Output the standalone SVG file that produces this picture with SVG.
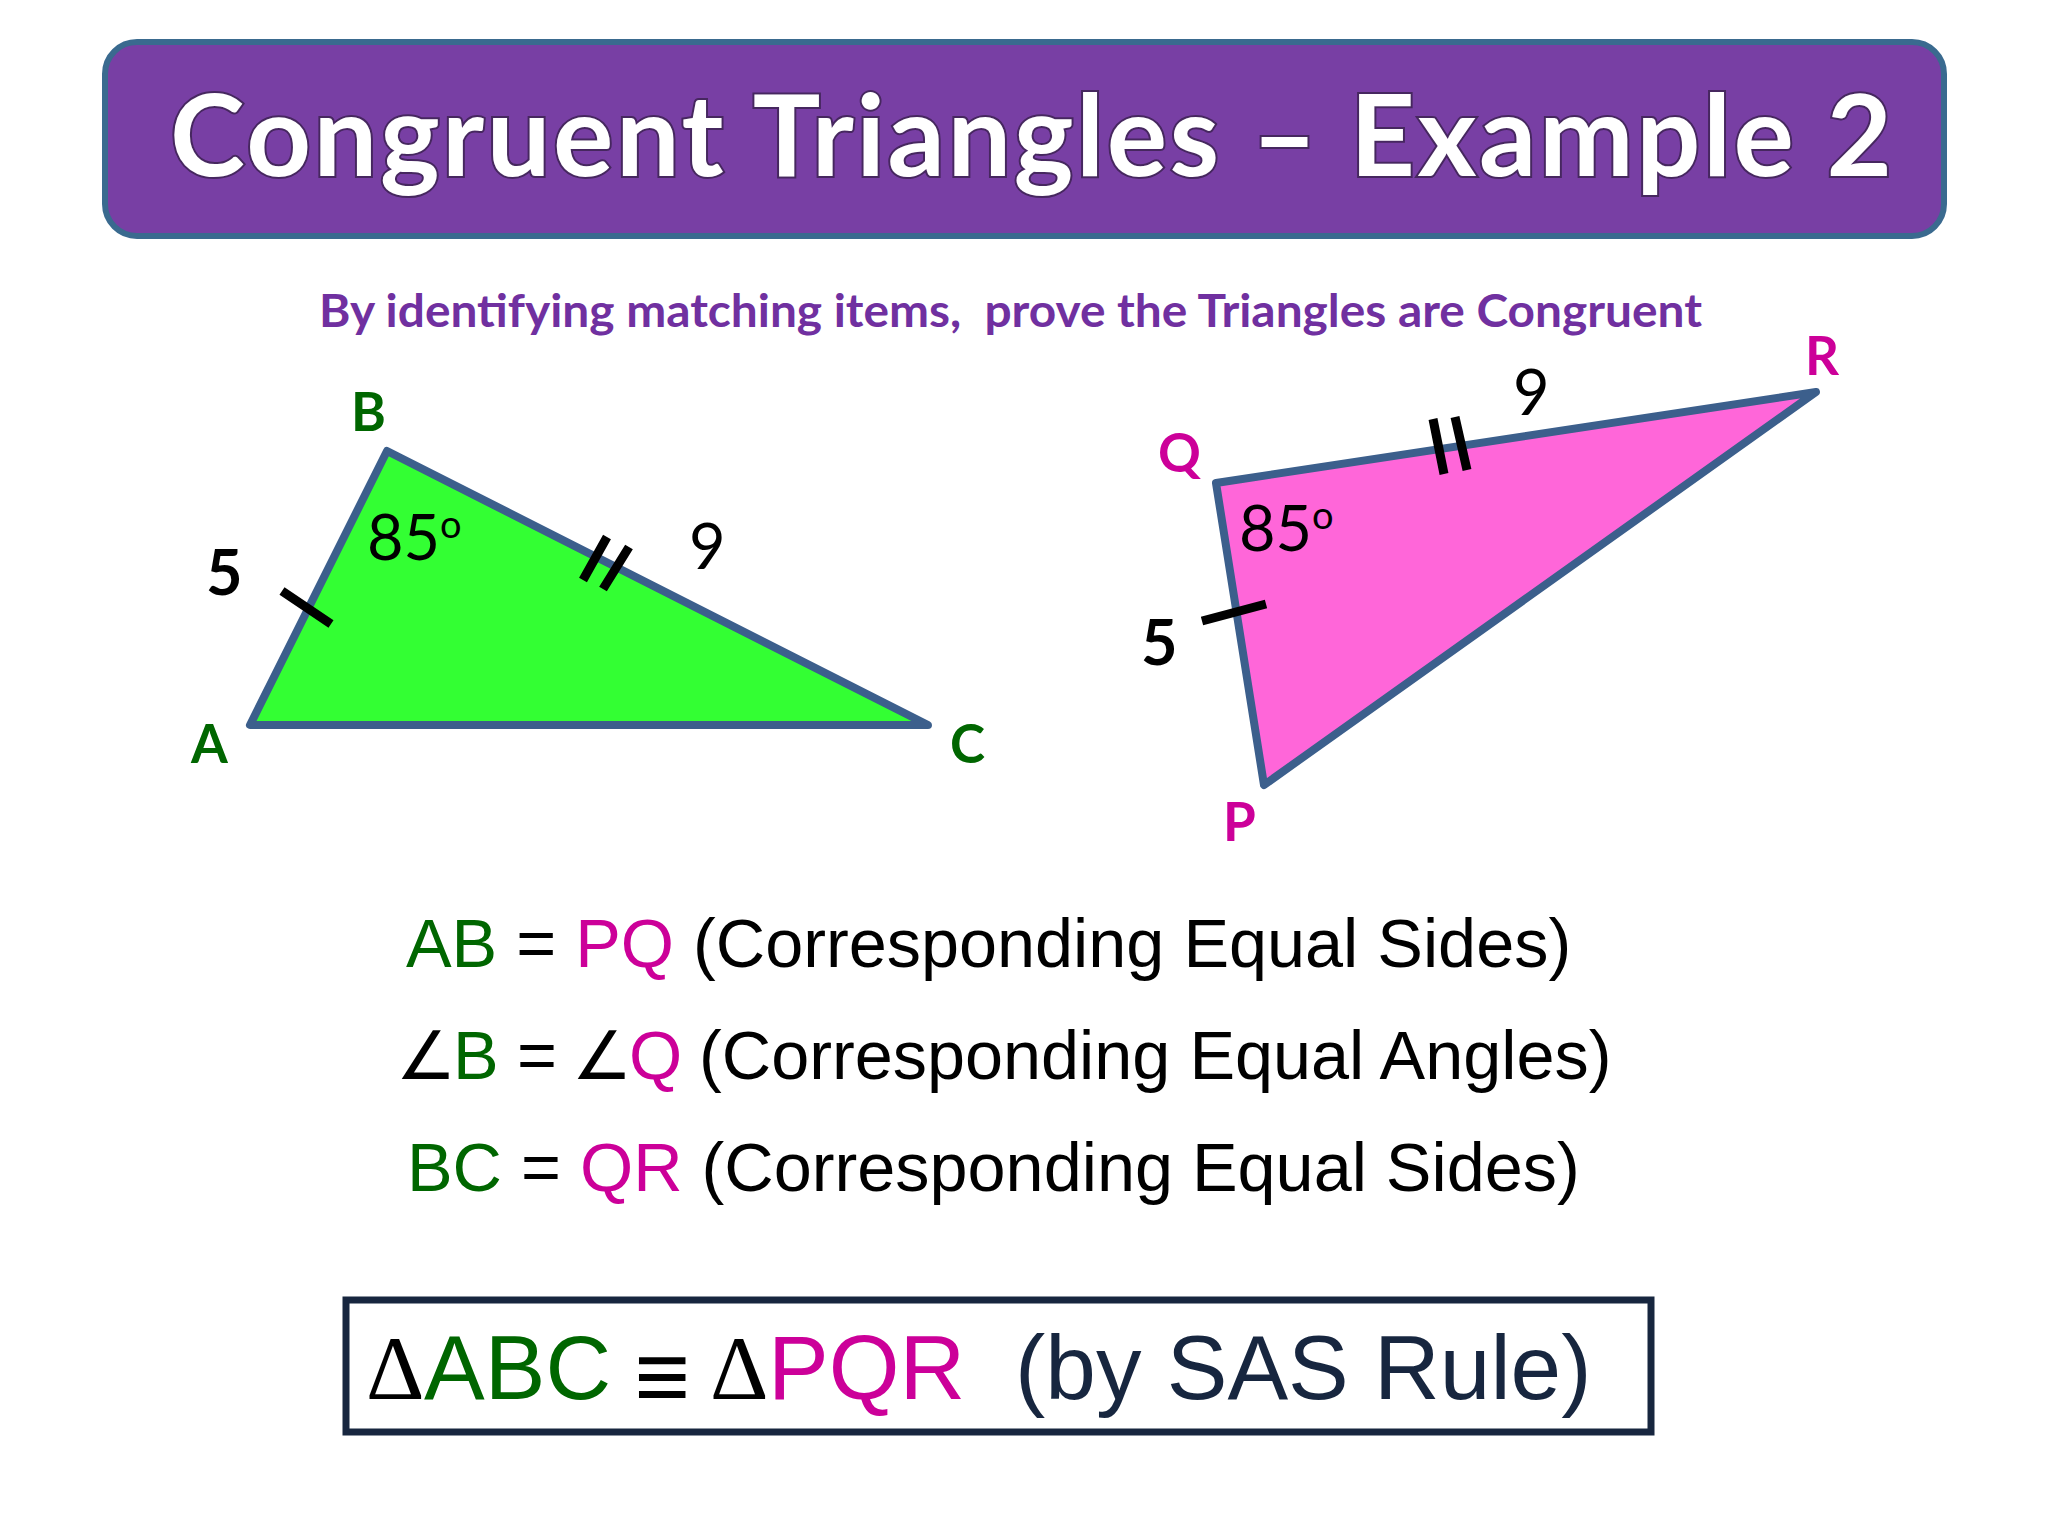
<svg xmlns="http://www.w3.org/2000/svg" width="2048" height="1536" viewBox="0 0 2048 1536">
<style>
.tri{stroke:#3c5f8c;stroke-width:8;stroke-linejoin:round}
.tick{stroke:#000;stroke-width:9;fill:none}
.lbl{font-family:"Lato","Liberation Sans",sans-serif;font-weight:700;font-size:53px}
.num{font-family:"Lato","Liberation Sans",sans-serif;font-size:63px;fill:#000}
.b{font-weight:700}
.g{fill:#006600}
.m{fill:#cc0099}
.eq{font-family:"Liberation Sans",sans-serif;font-size:68.4px;fill:#000}
.big{font-family:"Liberation Sans",sans-serif;font-size:91px;fill:#17263f}
.sym{font-family:"DejaVu Sans",sans-serif;fill:#000;font-size:67px}
.ser{font-family:"Liberation Serif",serif;fill:#000}
</style>
<rect width="2048" height="1536" fill="#fff"/>
<g id="banner">
<rect x="105" y="42" width="1839" height="194" rx="32" fill="#783fa4" stroke="#3a6a8f" stroke-width="6"/>
<text x="170" y="176" font-family="Lato,'Liberation Sans',sans-serif" font-size="113" font-weight="700" fill="#fff" stroke="#46275f" stroke-width="4" paint-order="stroke" textLength="1722" lengthAdjust="spacing">Congruent Triangles – Example 2</text>
</g>
<text id="subtitle" x="319" y="327" font-family="Lato,'Liberation Sans',sans-serif" font-size="45" font-weight="700" fill="#7030a0" textLength="1383" lengthAdjust="spacingAndGlyphs" xml:space="preserve">By identifying matching items,  prove the Triangles are Congruent</text>
<g id="triangle-abc">
<polygon class="tri" points="387,451 250,725 928,725" fill="#33ff33"/>
<text class="lbl g" x="351" y="431">B</text>
<text class="lbl g" x="191" y="763">A</text>
<text class="lbl g" x="950" y="763">C</text>
<text class="num b" x="206" y="595">5</text>
<text class="num" x="689" y="569">9</text>
<text class="num" x="367" y="560">85<tspan font-size="38" dy="-22">o</tspan></text>
<path class="tick" d="M282,591L331,624M607,537L583,580M629,547L603,589"/>
</g>
<g id="triangle-pqr">
<polygon class="tri" points="1216,483 1816,392 1264,785" fill="#ff66d9"/>
<text class="lbl m" x="1158" y="472">Q</text>
<text class="lbl m" x="1805" y="375">R</text>
<text class="lbl m" x="1223" y="841">P</text>
<text class="num b" x="1141" y="665">5</text>
<text class="num" x="1513" y="415">9</text>
<text class="num" x="1239" y="551">85<tspan font-size="38" dy="-22">o</tspan></text>
<path class="tick" d="M1202,621L1266,604M1433,419L1444,474M1455,417L1467,470"/>
</g>
<g id="statements">
<text class="eq" x="406" y="967" xml:space="preserve"><tspan class="g">AB</tspan> = <tspan class="m">PQ</tspan> (Corresponding Equal Sides)</text>
<text class="eq" y="1079" xml:space="preserve"><tspan class="sym" x="396">∠</tspan><tspan class="g" x="453">B</tspan><tspan x="517">=</tspan><tspan class="sym" x="572">∠</tspan><tspan class="m" x="629">Q</tspan><tspan x="699">(Corresponding Equal Angles)</tspan></text>
<text class="eq" x="407" y="1191" xml:space="preserve"><tspan class="g">BC</tspan> = <tspan class="m">QR</tspan> (Corresponding Equal Sides)</text>
</g>
<g id="conclusion">
<rect x="346" y="1300" width="1305" height="132" fill="#fff" stroke="#17263f" stroke-width="7"/>
<text class="big" y="1399" xml:space="preserve"><tspan class="ser" x="366">Δ</tspan><tspan class="g" x="424">ABC</tspan><tspan class="ser" x="634" dy="12" font-weight="700" font-size="100">≡</tspan><tspan class="ser" x="710" dy="-12">Δ</tspan><tspan class="m" x="768">PQR</tspan><tspan x="1015">(by SAS Rule)</tspan></text>
</g>
</svg>
